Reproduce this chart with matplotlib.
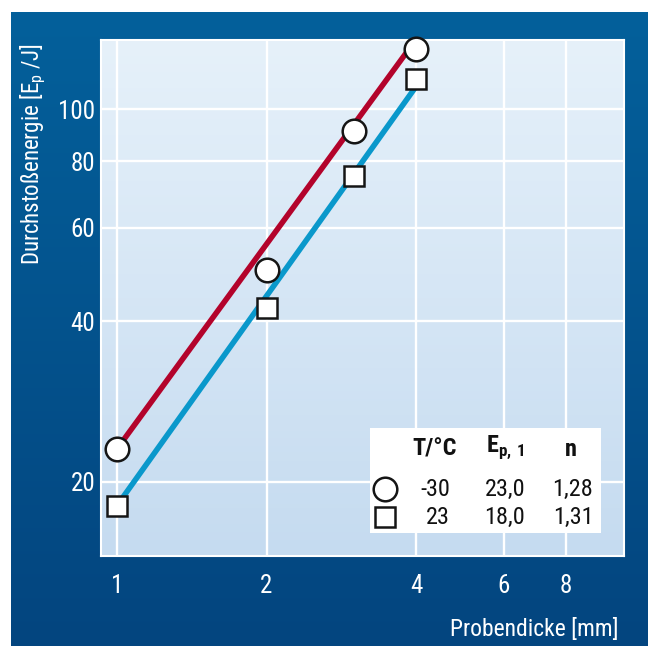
import numpy as np
import matplotlib
matplotlib.use('Agg')
import matplotlib.pyplot as plt
from matplotlib.colors import LinearSegmentedColormap
from matplotlib.patches import Rectangle

# specimen thickness [mm] and measured puncture energy [J]
thickness = [1, 2, 3, 4]
energy_cold = [23, 50, 91, 130]      # -30 °C
energy_room = [18, 42.4, 75, 114]    # 23 °C

# power-law fits E = Ep1 * d^n
fit_temp = ['-30', '23']
fit_ep1 = [23.0, 18.0]
fit_n = [1.28, 1.31]
fit_range = [1, 4]

x_ticks = [1, 2, 4, 6, 8]
y_ticks = [20, 40, 60, 80, 100]

RED = '#b3032b'
BLUE = '#0a98cb'
FONT = ['Roboto Condensed', 'DejaVu Sans']

plt.rcParams['font.family'] = FONT
plt.rcParams['mathtext.fontset'] = 'custom'
plt.rcParams['mathtext.rm'] = 'Roboto Condensed'
plt.rcParams['mathtext.bf'] = 'Roboto Condensed:bold'

W, H = 648, 646
fig = plt.figure(figsize=(W / 100, H / 100), dpi=100)

grad = np.linspace(0, 1, 256).reshape(-1, 1)

# dark blue frame
bg = fig.add_axes([11 / W, 0, 1 - 11 / W, 1 - 12 / H], zorder=-2)
bg.imshow(grad, aspect='auto', extent=[0, 1, 0, 1],
          cmap=LinearSegmentedColormap.from_list('frame', ['#03609b', '#04457f']))
bg.axis('off')

pos = [101 / W, 90 / H, 523 / W, 516 / H]

# light plot area
pa = fig.add_axes(pos, zorder=-1)
pa.imshow(grad, aspect='auto', extent=[0, 1, 0, 1],
          cmap=LinearSegmentedColormap.from_list('area', ['#e6f1fa', '#c5dbf0']))
pa.axis('off')

ax = fig.add_axes(pos)
ax.patch.set_alpha(0)
ax.set_xscale('log')
ax.set_yscale('log')
ax.set_xlim(0.93, 10.45)
ax.set_ylim(14.5, 135)

ax.xaxis.set_major_locator(matplotlib.ticker.FixedLocator(x_ticks))
ax.yaxis.set_major_locator(matplotlib.ticker.FixedLocator(y_ticks))
ax.xaxis.set_minor_locator(matplotlib.ticker.NullLocator())
ax.yaxis.set_minor_locator(matplotlib.ticker.NullLocator())
ax.set_xticklabels([str(t) for t in x_ticks])
ax.set_yticklabels([str(t) for t in y_ticks])
ax.tick_params(length=0, colors='white', labelsize=18)
ax.tick_params(axis='x', pad=13)
ax.tick_params(axis='y', pad=4)
ax.grid(True, color='white', lw=1.7)
ax.set_axisbelow(True)
for sp in ax.spines.values():
    sp.set_color('white')
    sp.set_linewidth(1.5)

# fit lines
xs = np.array(fit_range, dtype=float)
for ep1, n, col in zip(fit_ep1, fit_n, [RED, BLUE]):
    ax.plot(xs, ep1 * xs ** n, color=col, lw=4, zorder=3, solid_capstyle='butt')

mk = dict(mfc='white', mec='#151515', mew=1.8, ls='none', zorder=5, clip_on=False)
ax.plot(thickness, energy_cold, marker='o', ms=17, **mk)
ax.plot(thickness, energy_room, marker='s', ms=14.5, **mk)


def ax_x(px):
    return (px - 101) / 523


def ax_y(py):
    return (556 - py) / 516


# parameter table
box = Rectangle((ax_x(370), ax_y(533)), ax_x(601) - ax_x(370), ax_y(428) - ax_y(533),
                transform=ax.transAxes, facecolor='white', edgecolor='none', zorder=6)
ax.add_patch(box)

tk = dict(transform=ax.transAxes, zorder=7, color='#111111', fontsize=17.5, va='center')
hy = ax_y(449)
ax.text(ax_x(435), hy, 'T/°C', ha='center', fontweight='bold', **tk)
ax.text(ax_x(486), hy + 0.004, r'$\mathbf{E}_{\mathbf{p,\,1}}$', ha='left', **tk)
ax.text(ax_x(571), hy, 'n', ha='center', fontweight='bold', **tk)

rows_y = [ax_y(489), ax_y(517)]
markers = [('o', 17), ('s', 14.5)]
for i in range(2):
    ry = rows_y[i]
    ax.plot([ax_x(385)], [ry], marker=markers[i][0], ms=markers[i][1], mfc='white',
            mec='#151515', mew=1.8, transform=ax.transAxes, zorder=7, clip_on=False)
    ax.text(ax_x(450), ry, fit_temp[i], ha='right', **tk)
    ax.text(ax_x(505), ry, f'{fit_ep1[i]:.1f}'.replace('.', ','), ha='center', **tk)
    ax.text(ax_x(573), ry, f'{fit_n[i]:.2f}'.replace('.', ','), ha='center', **tk)

fig.text(33 / W, 1 - 43 / H, r'Durchstoßenergie [E$_\mathregular{p}$ /J]', rotation=90,
         ha='center', va='top', color='white', fontsize=16.5)
fig.text(618 / W, 1 - 630 / H, 'Probendicke [mm]', ha='right', va='center',
         color='white', fontsize=17)

fig.savefig('out.png', dpi=100, facecolor='white')
